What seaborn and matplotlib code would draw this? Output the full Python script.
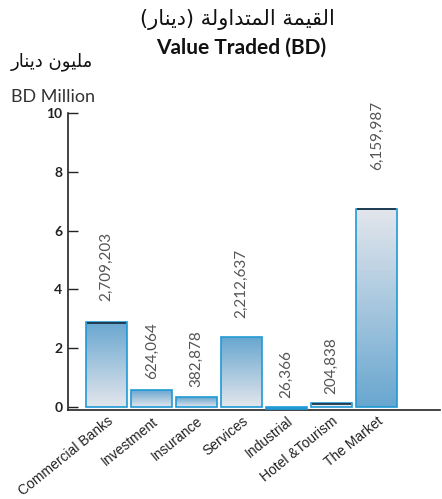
import numpy as np
import pandas as pd
import matplotlib
matplotlib.use("Agg")
import matplotlib.pyplot as plt
from matplotlib.colors import LinearSegmentedColormap
import seaborn as sns

# ---- data ----
categories = ["Commercial Banks", "Investment", "Insurance", "Services",
              "Industrial", "Hotel &Tourism", "The Market"]
bar_values = [2.88, 0.58, 0.33, 2.37, -0.08, 0.13, 6.75]
value_labels = ["2,709,203", "624,064", "382,878", "2,212,637",
                "26,366", "204,838", "6,159,987"]
y_ticks = [0, 2, 4, 6, 8, 10]

# ---- style ----
fill_style = ["blue_top", "blue_top", "blue_top", "blue_top", "solid", "flat",
              "blue_bottom"]
top_line = [True, False, False, False, False, True, True]
EDGE = "#1f9ad6"
BLUE = "#68a6cf"
LIGHT = "#e3e6ec"

sns.set_theme(style="white")
plt.rcParams['font.family'] = ['Lato', 'DejaVu Sans']

W, H = 442, 499
fig = plt.figure(figsize=(W / 100, H / 100), dpi=100)
ax = fig.add_axes([68 / W, 1 - 410 / H, 372 / W, (410 - 113) / H])

df = pd.DataFrame({"cat": categories, "val": bar_values})
sns.barplot(data=df, x="cat", y="val", ax=ax, width=0.91,
            facecolor="none", edgecolor=EDGE, linewidth=1.2, zorder=3)

cmap = LinearSegmentedColormap.from_list("g", [LIGHT, BLUE])  # 0 light, 1 blue
N = 120

for i, p in enumerate(ax.patches):
    x0, y0 = p.get_x(), p.get_y()
    w, h = p.get_width(), p.get_height()
    ylo, yhi = min(y0, y0 + h), max(y0, y0 + h)
    st = fill_style[i]
    if st == "solid":
        p.set_facecolor(EDGE)
    elif st == "flat":
        p.set_facecolor(LIGHT)
    else:
        ys = np.linspace(ylo, yhi, N + 1)
        frac = (np.arange(N) + 0.5) / N          # 0 at bottom, 1 at top
        c = frac if st == "blue_top" else 1 - frac
        mesh = ax.pcolormesh([x0, x0 + w], ys, c.reshape(-1, 1), cmap=cmap,
                             vmin=0, vmax=1, shading="flat", zorder=2,
                             edgecolors="none", antialiased=False)
    if top_line[i]:
        ax.plot([x0 + 0.02, x0 + w - 0.02], [yhi - 0.03, yhi - 0.03],
                color="#1a2a3a", lw=1.2, zorder=4, solid_capstyle="butt")
    lab_y = max(bar_values[i], 0) * 1.15 + 0.3
    ax.text(x0 + w / 2, lab_y, value_labels[i], rotation=90,
            ha="center", va="bottom", fontsize=11, color="#555555",
            family=["Lato", "DejaVu Sans"])

ax.set_xlim(-0.856, 7.41)
ax.set_ylim(-0.1, 10)

ax.set_xlabel("")
ax.set_ylabel("")
ax.set_yticks(y_ticks)
ax.set_yticklabels([str(t) for t in y_ticks], fontsize=10, fontweight="bold",
                   color="#222222")
ax.tick_params(axis="y", direction="in", length=7, width=1, color="#222222",
               left=True, pad=4)
ax.tick_params(axis="x", length=0, pad=3)
ax.set_xticks(range(len(categories)))
ax.set_xticklabels(categories, rotation=39, ha="right", va="top",
                   rotation_mode="anchor",
                   fontsize=10, family=["Liberation Sans", "DejaVu Sans"],
                   color="#222222")

for s in ["top", "right"]:
    ax.spines[s].set_visible(False)
for s in ["left", "bottom"]:
    ax.spines[s].set_color("#222222")
    ax.spines[s].set_linewidth(1.2)
ax.grid(False)


def vis_arabic(s):
    # s is given in logical order using Arabic presentation forms
    swap = {"(": ")", ")": "("}
    return "".join(swap.get(c, c) for c in s[::-1])


title_ar = vis_arabic("\uFE8D\uFEDF\uFED8\uFEF4\uFEE4\uFE94 "
                      "\uFE8D\uFEDF\uFEE4\uFE98\uFEAA\uFE8D\uFEED\uFEDF\uFE94 "
                      "(\uFEA9\uFEF3\uFEE8\uFE8E\uFEAD)")
unit_ar = vis_arabic("\uFEE3\uFEE0\uFEF4\uFEEE\uFEE5 \uFEA9\uFEF3\uFEE8\uFE8E\uFEAD")

fig.text(237 / W, 1 - 20 / H, title_ar, ha="center", va="center",
         fontsize=15, family=["DejaVu Sans"], color="#111111")
fig.text(241 / W, 1 - 48 / H, "Value Traded (BD)", ha="center", va="center",
         fontsize=15, fontweight="bold", color="#111111")
fig.text(52 / W, 1 - 62 / H, unit_ar, ha="center", va="center",
         fontsize=13, family=["DejaVu Sans"], color="#111111")
fig.text(53 / W, 1 - 97 / H, "BD Million", ha="center", va="center",
         fontsize=13, color="#333333")

fig.savefig("out.png", dpi=100)
